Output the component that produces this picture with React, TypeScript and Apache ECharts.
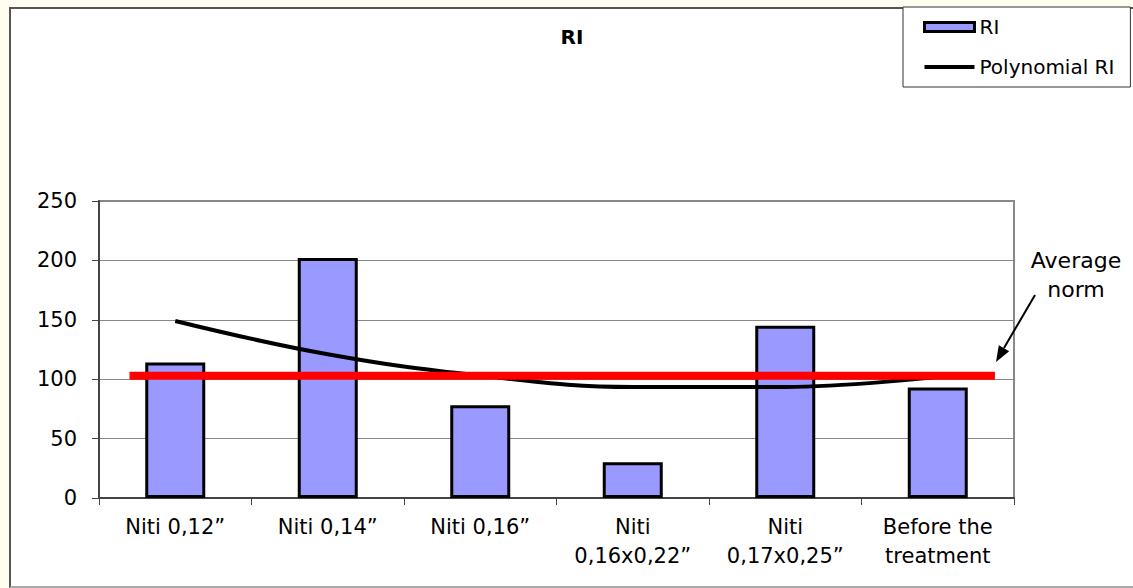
import React, { useEffect, useRef } from "react";
import * as echarts from "echarts";

// Category labels along the bottom axis
const categories = [
  "Niti 0,12”",
  "Niti 0,14”",
  "Niti 0,16”",
  "Niti\n0,16x0,22”",
  "Niti\n0,17x0,25”",
  "Before the\ntreatment",
];

// RI values per wire stage
const riValues = [114, 202, 78, 30, 145, 93];

// Second-order polynomial trend of RI, sampled at each category
const polynomialValues = [149, 121, 103, 93.5, 93.5, 102];

// Average norm level and its horizontal extent (in category units, 0..6)
const averageNorm = 103;
const normSpan = [0.2, 5.875];

// Value axis
const yMin = 0;
const yMax = 250;
const yStep = 50;

const FONT = "DejaVu Sans";

export default function App() {
  const ref = useRef<HTMLDivElement>(null);

  useEffect(() => {
    if (!ref.current) return;
    const chart = echarts.init(ref.current, null, { renderer: "svg" });

    const option: echarts.EChartsCoreOption = {
      animation: false,
      backgroundColor: "transparent",
      textStyle: { fontFamily: FONT },
      title: {
        text: "RI",
        left: 572,
        top: 27,
        padding: 0,
        textAlign: "center",
        textStyle: {
          fontFamily: FONT,
          fontWeight: "bold",
          fontSize: 20,
          color: "#000",
        },
      },
      legend: {
        orient: "vertical",
        left: 903,
        top: 7,
        padding: [8, 16, 8, 20],
        itemGap: 16,
        itemWidth: 50,
        itemHeight: 9,
        selectedMode: false,
        backgroundColor: "#fff",
        borderColor: "#333",
        borderWidth: 1,
        borderRadius: 0,
        textStyle: {
          fontFamily: FONT,
          fontSize: 20,
          color: "#000",
          lineHeight: 24,
        },
        data: [
          {
            name: "RI",
            icon: "rect",
            itemStyle: { color: "#9999ff", borderColor: "#000", borderWidth: 3 },
          },
          {
            name: "Polynomial RI",
            icon: "path://M0 0H52V4H0Z",
            itemStyle: { color: "#000", borderWidth: 0 },
          },
        ],
      },
      grid: {
        left: 99,
        right: 119,
        top: 201,
        bottom: 90,
        show: true,
        borderColor: "#888",
        borderWidth: 2,
        backgroundColor: "transparent",
      },
      xAxis: [
        {
          type: "category",
          data: categories,
          axisLine: { show: true, lineStyle: { color: "#444", width: 2 } },
          axisTick: {
            show: true,
            length: 7,
            interval: 0,
            lineStyle: { color: "#444", width: 1 },
          },
          axisLabel: {
            interval: 0,
            margin: 14,
            fontFamily: FONT,
            fontSize: 21,
            lineHeight: 29,
            color: "#000",
          },
          splitLine: { show: false },
        },
        {
          type: "value",
          min: 0,
          max: categories.length,
          show: false,
        },
      ],
      yAxis: {
        type: "value",
        min: yMin,
        max: yMax,
        interval: yStep,
        axisLine: { show: true, lineStyle: { color: "#444", width: 2 } },
        axisTick: { show: true, length: 7, lineStyle: { color: "#444", width: 1 } },
        axisLabel: {
          margin: 22,
          fontFamily: FONT,
          fontSize: 21,
          color: "#000",
        },
        splitLine: { show: true, lineStyle: { color: "#888", width: 1 } },
      },
      series: [
        {
          name: "RI",
          type: "bar",
          data: riValues,
          barWidth: 60,
          itemStyle: { color: "#9999ff", borderColor: "#000", borderWidth: 3 },
          z: 2,
        },
        {
          name: "Polynomial RI",
          type: "line",
          data: polynomialValues,
          smooth: 0.4,
          symbol: "none",
          lineStyle: { color: "#000", width: 4 },
          z: 3,
        },
        {
          name: "Average norm",
          type: "line",
          xAxisIndex: 1,
          data: normSpan.map((x) => [x, averageNorm]),
          symbol: "none",
          silent: true,
          lineStyle: { color: "#ff0000", width: 8, cap: "butt" },
          z: 4,
        },
      ],
      graphic: [
        {
          type: "text",
          x: 1076,
          y: 260,
          style: {
            text: "Average",
            fontFamily: FONT,
            fontSize: 22,
            fill: "#000",
            textAlign: "center",
            textVerticalAlign: "middle",
          },
        },
        {
          type: "text",
          x: 1076,
          y: 289,
          style: {
            text: "norm",
            fontFamily: FONT,
            fontSize: 22,
            fill: "#000",
            textAlign: "center",
            textVerticalAlign: "middle",
          },
        },
        {
          type: "line",
          shape: { x1: 1035, y1: 295, x2: 1004, y2: 348 },
          style: { stroke: "#000", lineWidth: 2 },
        },
        {
          type: "polygon",
          shape: {
            points: [
              [996, 362],
              [1009.2, 351.2],
              [998.8, 345.2],
            ],
          },
          style: { fill: "#000" },
        },
      ],
    };

    chart.setOption(option);
    return () => chart.dispose();
  }, []);

  return (
    <div
      style={{
        position: "fixed",
        left: 0,
        top: 0,
        width: 1133,
        height: 588,
        overflow: "hidden",
        background: "#fffdf0",
      }}
    >
      <div
        style={{
          position: "absolute",
          left: 9,
          top: 7,
          width: 1140,
          height: 581,
          boxSizing: "border-box",
          background: "#fff",
          borderLeft: "2px solid #555",
          borderTop: "2px solid #555",
          borderBottom: "2px solid #aaa",
        }}
      />
      <div
        ref={ref}
        style={{ position: "absolute", left: 0, top: 0, width: 1133, height: 588 }}
      />
    </div>
  );
}
